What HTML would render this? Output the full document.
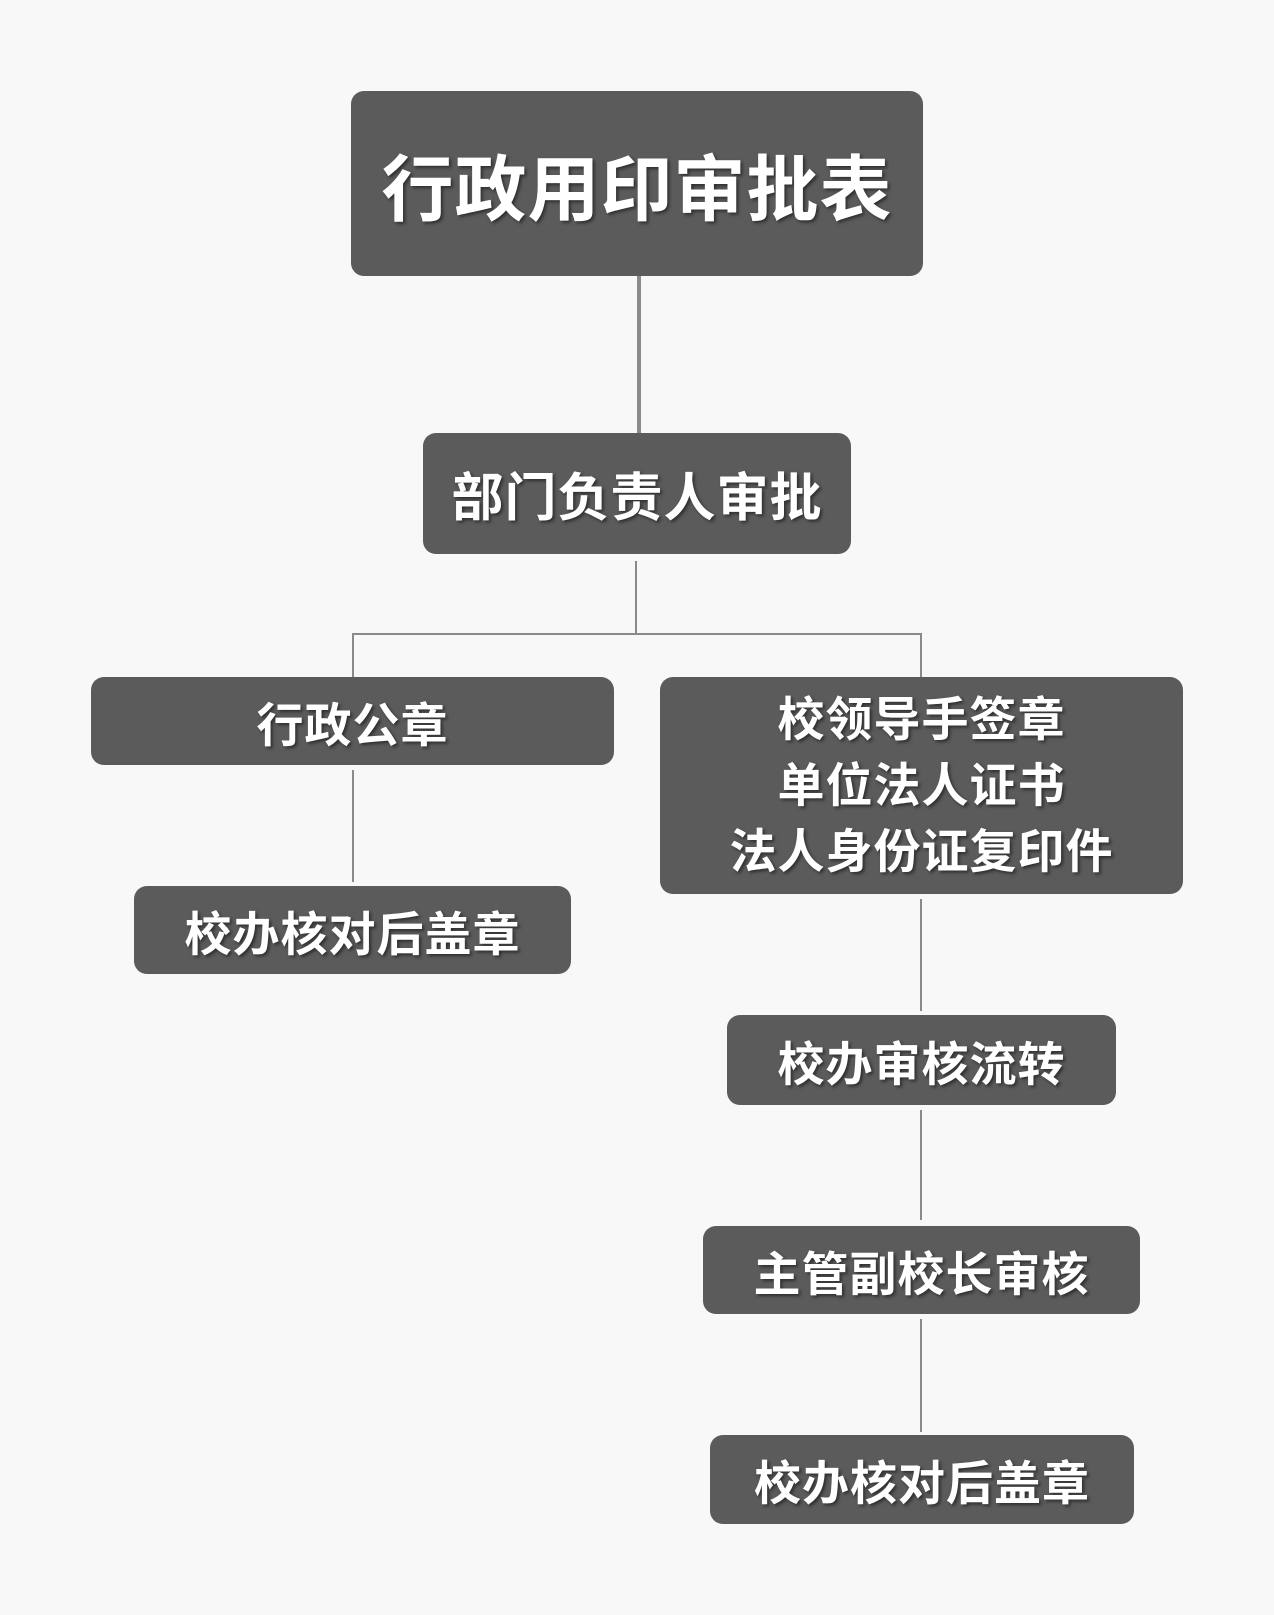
<!DOCTYPE html>
<html><head><meta charset="utf-8"><style>
body{margin:0;width:1274px;height:1615px;background:#f8f8f8;position:relative;overflow:hidden;font-family:"Liberation Sans","Noto Sans CJK SC",sans-serif}
.b{position:absolute;background:#5b5b5b;border-radius:13px;color:#fff;font-weight:bold;display:flex;align-items:center;justify-content:center;text-align:center;text-shadow:2px 2px 3px rgba(0,0,0,.5);letter-spacing:1px}
.l{position:absolute;background:#8a8a8a}
</style></head><body>
<div class="l" style="left:637px;top:276px;width:4px;height:158px"></div>
<div class="l" style="left:635px;top:561px;width:2px;height:73px"></div>
<div class="l" style="left:352px;top:633px;width:570px;height:2px"></div>
<div class="l" style="left:352px;top:633px;width:2px;height:45px"></div>
<div class="l" style="left:920px;top:633px;width:2px;height:45px"></div>
<div class="l" style="left:352px;top:770px;width:2px;height:112px"></div>
<div class="l" style="left:920px;top:899px;width:2px;height:112px"></div>
<div class="l" style="left:920px;top:1110px;width:2px;height:110px"></div>
<div class="l" style="left:920px;top:1319px;width:2px;height:113px"></div>

<div class="b" style="left:351px;top:91px;width:572px;height:185px;font-size:72px">行政用印审批表</div>
<div class="b" style="left:423px;top:433px;width:428px;height:121px;font-size:52px">部门负责人审批</div>
<div class="b" style="left:91px;top:677px;width:523px;height:88px;font-size:47px">行政公章</div>
<div class="b" style="left:660px;top:677px;width:523px;height:217px;font-size:47px;line-height:66px">校领导手签章<br>单位法人证书<br>法人身份证复印件</div>
<div class="b" style="left:134px;top:886px;width:437px;height:88px;font-size:47px">校办核对后盖章</div>
<div class="b" style="left:727px;top:1015px;width:389px;height:90px;font-size:47px">校办审核流转</div>
<div class="b" style="left:703px;top:1226px;width:437px;height:88px;font-size:47px">主管副校长审核</div>
<div class="b" style="left:710px;top:1435px;width:424px;height:89px;font-size:47px">校办核对后盖章</div>
</body></html>
